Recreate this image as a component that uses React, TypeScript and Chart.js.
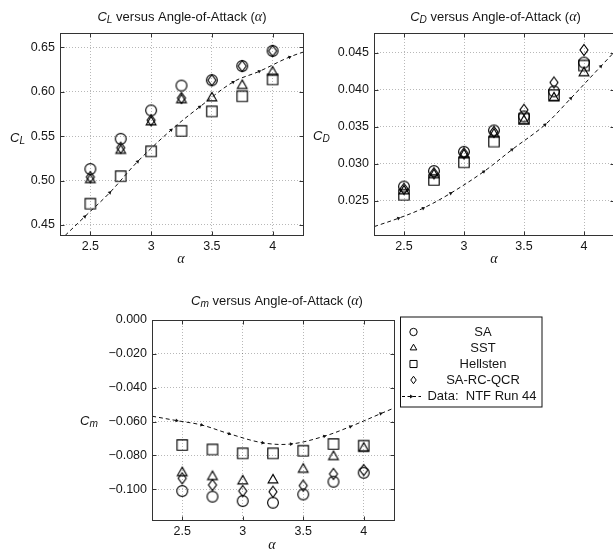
import React, { useEffect, useRef } from 'react';
import { Chart, registerables } from 'chart.js';
Chart.register(...registerables);

// ---------------- data ----------------
const ALPHA = [2.5, 2.75, 3.0, 3.25, 3.5, 3.75, 4.0];
const X_TICKS = [2.5, 3, 3.5, 4];

const CL_SA = [0.513, 0.547, 0.579, 0.607, 0.613, 0.629, 0.646];
const CL_SST = [0.501, 0.534, 0.566, 0.591, 0.593, 0.607, 0.622];
const CL_HELLSTEN = [0.474, 0.505, 0.533, 0.556, 0.578, 0.595, 0.614];
const CL_QCR = [0.504, 0.537, 0.568, 0.593, 0.613, 0.629, 0.646];

const CD_SA = [0.0269, 0.029, 0.0316, 0.0345, 0.0364, 0.0398, 0.0437];
const CD_SST = [0.0263, 0.0285, 0.0312, 0.034, 0.0358, 0.0389, 0.0423];
const CD_HELLSTEN = [0.0258, 0.0278, 0.0302, 0.033, 0.0361, 0.0393, 0.0433];
const CD_QCR = [0.0266, 0.0287, 0.0314, 0.0343, 0.0373, 0.041, 0.0454];

const CM_SA = [-0.101, -0.1043, -0.1069, -0.1079, -0.103, -0.0955, -0.0902];
const CM_SST = [-0.0902, -0.0925, -0.0951, -0.0945, -0.0882, -0.0807, -0.0758];
const CM_HELLSTEN = [-0.0738, -0.0764, -0.0787, -0.0787, -0.0772, -0.0732, -0.0742];
const CM_QCR = [-0.0935, -0.0974, -0.101, -0.1014, -0.0978, -0.0909, -0.0886];

const NTF_ALPHA = [2.25, 2.454, 2.66, 2.889, 3.165, 3.4, 3.675, 3.89, 4.14, 4.35];
const NTF_CL = [0.4326, 0.4594, 0.4865, 0.5214, 0.557, 0.583, 0.611, 0.623, 0.6392, 0.649];
const NTF_CD = [0.02147, 0.02261, 0.02397, 0.026, 0.02893, 0.0319, 0.03527, 0.03885, 0.04318, 0.0468];
const NTF_CM = [-0.0568, -0.0594, -0.062, -0.0672, -0.0725, -0.0732, -0.0686, -0.0629, -0.0553, -0.049];

const CL_TICKS = [0.45, 0.5, 0.55, 0.6, 0.65];
const CD_TICKS = [0.025, 0.03, 0.035, 0.04, 0.045];
const CM_TICKS = [0, -0.02, -0.04, -0.06, -0.08, -0.1];

const SERIES_NAMES = ['SA', 'SST', 'Hellsten', 'SA-RC-QCR'];
const DATA_NAME = 'Data:  NTF Run 44';

// ---------------- styling helpers ----------------
const SANS = '"Liberation Sans", Arial, sans-serif';
const SERIF = '"Liberation Serif", "DejaVu Serif", serif';
const TXT = '#161616';
const FRAME = '#333333';
const GRID = 'rgba(0,0,0,0.28)';
const KINDS = ['circle', 'triangle', 'square', 'diamond'];

type Seg = { t: string; it?: boolean; sub?: boolean; math?: boolean };

function segFont(s: Seg, size: number) {
  const sz = s.sub ? size * 0.78 : s.math ? size * 1.08 : size;
  return `${s.it ? 'italic ' : ''}${sz}px ${s.math ? SERIF : SANS}`;
}

function drawRich(ctx: CanvasRenderingContext2D, segs: Seg[], x: number, y: number, size: number, align: string) {
  ctx.save();
  ctx.fillStyle = TXT;
  ctx.textBaseline = 'alphabetic';
  ctx.textAlign = 'left';
  const ws = segs.map((s) => {
    ctx.font = segFont(s, size);
    return ctx.measureText(s.t).width;
  });
  const total = ws.reduce((a, b) => a + b, 0);
  let cx = align === 'center' ? x - total / 2 : align === 'right' ? x - total : x;
  segs.forEach((s, i) => {
    ctx.font = segFont(s, size);
    ctx.fillText(s.t, cx, s.sub ? y + size * 0.18 : y);
    cx += ws[i];
  });
  ctx.restore();
}

function drawMarker(ctx: CanvasRenderingContext2D, kind: string, x: number, y: number, k = 1) {
  ctx.beginPath();
  if (kind === 'circle') ctx.arc(x, y, 5.4 * k, 0, Math.PI * 2);
  else if (kind === 'triangle') {
    const r = 5.6 * k;
    ctx.moveTo(x, y - r);
    ctx.lineTo(x + r * 0.866, y + r / 2);
    ctx.lineTo(x - r * 0.866, y + r / 2);
    ctx.closePath();
  } else if (kind === 'square') {
    const h = 5.2 * k;
    ctx.rect(x - h, y - h, 2 * h, 2 * h);
  } else {
    ctx.moveTo(x, y - 5.5 * k);
    ctx.lineTo(x + 4 * k, y);
    ctx.lineTo(x, y + 5.5 * k);
    ctx.lineTo(x - 4 * k, y);
    ctx.closePath();
  }
  ctx.stroke();
}

function markerImage(kind: string) {
  const c = document.createElement('canvas');
  c.width = 16;
  c.height = 16;
  const g = c.getContext('2d')!;
  g.strokeStyle = '#000';
  g.lineWidth = 1.15;
  drawMarker(g, kind, 8, 8);
  return c;
}

type Spec = {
  w: number;
  h: number;
  plot: { l: number; t: number; r: number; b: number };
  yMin: number;
  yMax: number;
  yTicks: number[];
  yDigits: number;
  series: number[][];
  ntf: number[];
  title: Seg[];
  titleX: number;
  titleY: number;
  ylab: Seg[];
  ylabX: number;
  ylabY: number;
  xlabX: number;
  xlabY: number;
  legend?: { x: number; y: number; w: number; h: number };
};

function fmtY(v: number, d: number) {
  const s = Math.abs(v) < 1e-12 ? (0).toFixed(d) : v.toFixed(d);
  return s.replace('-', '\u2212');
}

function build(canvas: HTMLCanvasElement, s: Spec) {
  const imgs = KINDS.map(markerImage);
  const n = NTF_ALPHA.length;
  const datasets: any[] = [
    {
      label: DATA_NAME,
      data: NTF_ALPHA.map((a, i) => ({ x: a, y: s.ntf[i] })),
      showLine: true,
      borderColor: '#111',
      borderWidth: 1,
      borderDash: [4, 3],
      tension: 0.35,
      pointStyle: 'triangle',
      pointRadius: (c: any) => (c.dataIndex === 0 || c.dataIndex === n - 1 ? 0 : 2.2),
      pointBackgroundColor: '#111',
      pointBorderColor: '#111',
      pointBorderWidth: 0,
      pointRotation: (c: any) => {
        const d = c.dataset.data;
        const i = c.dataIndex;
        const sx = c.chart.scales.x;
        const sy = c.chart.scales.y;
        if (!sx || !sy) return 90;
        const a = d[Math.max(0, i - 1)];
        const b = d[Math.min(d.length - 1, i + 1)];
        const dx = sx.getPixelForValue(b.x) - sx.getPixelForValue(a.x);
        const dy = sy.getPixelForValue(b.y) - sy.getPixelForValue(a.y);
        return (Math.atan2(dy, dx) * 180) / Math.PI + 90;
      },
    },
    ...s.series.map((arr, k) => ({
      label: SERIES_NAMES[k],
      data: ALPHA.map((a, i) => ({ x: a, y: arr[i] })),
      showLine: false,
      pointStyle: imgs[k],
      pointRadius: 5,
    })),
  ];

  const decor = {
    id: 'decor',
    afterDraw(chart: any) {
      const ctx: CanvasRenderingContext2D = chart.ctx;
      const ca = chart.chartArea;
      const sx = chart.scales.x;
      const sy = chart.scales.y;
      ctx.save();
      ctx.strokeStyle = FRAME;
      ctx.lineWidth = 1;
      ctx.setLineDash([]);
      const L = Math.round(ca.left) + 0.5;
      const T = Math.round(ca.top) + 0.5;
      const R = Math.round(ca.right) + 0.5;
      const B = Math.round(ca.bottom) + 0.5;
      ctx.strokeRect(L, T, R - L, B - T);
      ctx.beginPath();
      X_TICKS.forEach((v) => {
        const px = Math.round(sx.getPixelForValue(v)) + 0.5;
        ctx.moveTo(px, B);
        ctx.lineTo(px, B - 4);
        ctx.moveTo(px, T);
        ctx.lineTo(px, T + 4);
      });
      s.yTicks.forEach((v) => {
        const py = Math.round(sy.getPixelForValue(v)) + 0.5;
        ctx.moveTo(L, py);
        ctx.lineTo(L + 4, py);
        ctx.moveTo(R, py);
        ctx.lineTo(R - 4, py);
      });
      ctx.stroke();
      ctx.restore();

      drawRich(ctx, s.title, s.titleX, s.titleY, 13, 'center');
      drawRich(ctx, s.ylab, s.ylabX, s.ylabY, 13, 'left');
      drawRich(ctx, [{ t: '\u03b1', it: true, math: true }], s.xlabX, s.xlabY, 13, 'center');

      if (s.legend) {
        const lg = s.legend;
        ctx.save();
        ctx.strokeStyle = '#111';
        ctx.lineWidth = 1;
        ctx.strokeRect(lg.x + 0.5, lg.y + 0.5, lg.w, lg.h);
        ctx.font = `13px ${SANS}`;
        ctx.fillStyle = TXT;
        ctx.textAlign = 'center';
        ctx.textBaseline = 'middle';
        const names = [...SERIES_NAMES, DATA_NAME];
        names.forEach((name, i) => {
          const yy = lg.y + 15.5 + 16 * i;
          if (i < 4) {
            ctx.strokeStyle = '#000';
            drawMarker(ctx, KINDS[i], lg.x + 13.5, yy, 0.68);
            ctx.fillText(name, lg.x + 83, yy);
          } else {
            ctx.beginPath();
            ctx.setLineDash([3, 2.5]);
            ctx.moveTo(lg.x + 2, yy + 0.5);
            ctx.lineTo(lg.x + 21, yy + 0.5);
            ctx.stroke();
            ctx.setLineDash([]);
            ctx.beginPath();
            ctx.moveTo(lg.x + 13.5, yy + 0.5);
            ctx.lineTo(lg.x + 10, yy - 1.5);
            ctx.lineTo(lg.x + 10, yy + 2.5);
            ctx.closePath();
            ctx.fill();
            ctx.fillText(name, lg.x + 82, yy);
          }
        });
        ctx.restore();
      }
    },
  };

  const gridCfg = { color: GRID, lineWidth: 1, drawTicks: false };
  const borderCfg = { display: false, dash: [1, 2] };

  return new Chart(canvas, {
    type: 'scatter',
    data: { datasets },
    plugins: [decor],
    options: {
      responsive: false,
      animation: false,
      devicePixelRatio: 1,
      events: [],
      layout: { padding: { left: 0, top: s.plot.t, right: s.w - s.plot.r, bottom: 0 } },
      plugins: { legend: { display: false }, tooltip: { enabled: false }, title: { display: false } },
      scales: {
        x: {
          type: 'linear',
          min: 2.25,
          max: 4.25,
          afterBuildTicks: (sc: any) => {
            sc.ticks = X_TICKS.map((v) => ({ value: v }));
          },
          afterFit: (sc: any) => {
            sc.height = s.h - s.plot.b;
          },
          grid: gridCfg,
          border: borderCfg,
          ticks: {
            padding: 4,
            maxRotation: 0,
            autoSkip: false,
            color: TXT,
            font: { family: SANS, size: 12.5 },
            callback: (v: any) => String(v),
          },
        },
        y: {
          type: 'linear',
          min: s.yMin,
          max: s.yMax,
          afterBuildTicks: (sc: any) => {
            sc.ticks = s.yTicks.map((v) => ({ value: v }));
          },
          afterFit: (sc: any) => {
            sc.width = s.plot.l;
          },
          grid: gridCfg,
          border: borderCfg,
          ticks: {
            padding: 5,
            autoSkip: false,
            color: TXT,
            font: { family: SANS, size: 12.5 },
            callback: (v: any) => fmtY(Number(v), s.yDigits),
          },
        },
      },
    } as any,
  });
}

const titleSegs = (sub: string): Seg[] => [
  { t: 'C', it: true },
  { t: sub, it: true, sub: true },
  { t: ' versus Angle-of-Attack (' },
  { t: '\u03b1', it: true, math: true },
  { t: ')' },
];
const ylabSegs = (sub: string): Seg[] => [
  { t: 'C', it: true },
  { t: sub, it: true, sub: true },
];

const SPEC_CL: Spec = {
  w: 310,
  h: 280,
  plot: { l: 60, t: 33, r: 303, b: 235 },
  yMin: 0.4387,
  yMax: 0.6662,
  yTicks: CL_TICKS,
  yDigits: 2,
  series: [CL_SA, CL_SST, CL_HELLSTEN, CL_QCR],
  ntf: NTF_CL,
  title: titleSegs('L'),
  titleX: 182,
  titleY: 21,
  ylab: ylabSegs('L'),
  ylabX: 10,
  ylabY: 141.5,
  xlabX: 181,
  xlabY: 263,
};

const SPEC_CD: Spec = {
  w: 310,
  h: 280,
  plot: { l: 64, t: 33, r: 307, b: 235 },
  yMin: 0.02034,
  yMax: 0.0477,
  yTicks: CD_TICKS,
  yDigits: 3,
  series: [CD_SA, CD_SST, CD_HELLSTEN, CD_QCR],
  ntf: NTF_CD,
  title: titleSegs('D'),
  titleX: 185.5,
  titleY: 21,
  ylab: ylabSegs('D'),
  ylabX: 3,
  ylabY: 140,
  xlabX: 184,
  xlabY: 263,
};

const SPEC_CM: Spec = {
  w: 613,
  h: 271,
  plot: { l: 152, t: 40, r: 394, b: 240 },
  yMin: -0.1181,
  yMax: 0,
  yTicks: CM_TICKS,
  yDigits: 3,
  series: [CM_SA, CM_SST, CM_HELLSTEN, CM_QCR],
  ntf: NTF_CM,
  title: titleSegs('m'),
  titleX: 277,
  titleY: 25,
  ylab: ylabSegs('m'),
  ylabX: 80,
  ylabY: 144.5,
  xlabX: 272,
  xlabY: 269,
  legend: { x: 400, y: 36.5, w: 141.5, h: 90 },
};

export default function App() {
  const r1 = useRef<HTMLCanvasElement>(null);
  const r2 = useRef<HTMLCanvasElement>(null);
  const r3 = useRef<HTMLCanvasElement>(null);

  useEffect(() => {
    const charts = [build(r1.current!, SPEC_CL), build(r2.current!, SPEC_CD), build(r3.current!, SPEC_CM)];
    return () => charts.forEach((c) => c.destroy());
  }, []);

  return (
    <div
      style={{
        position: 'fixed',
        left: 0,
        top: 0,
        width: 613,
        height: 551,
        overflow: 'hidden',
        background: '#fff',
      }}
    >
      <canvas ref={r1} width={310} height={280} style={{ position: 'absolute', left: 0, top: 0, width: 310, height: 280 }} />
      <canvas ref={r2} width={310} height={280} style={{ position: 'absolute', left: 310, top: 0, width: 310, height: 280 }} />
      <canvas ref={r3} width={613} height={271} style={{ position: 'absolute', left: 0, top: 280, width: 613, height: 271 }} />
    </div>
  );
}
